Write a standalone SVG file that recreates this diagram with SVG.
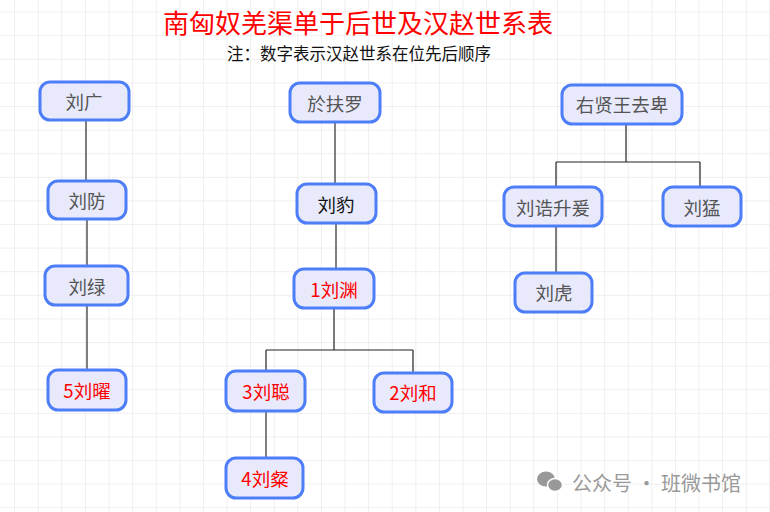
<svg xmlns="http://www.w3.org/2000/svg" width="770" height="512" viewBox="0 0 770 512">
<defs>
<pattern id="g" x="-8.5" y="-11" width="23.6" height="23.6" patternUnits="userSpaceOnUse">
<path d="M23.6 0V23.6M0 23.6H23.6" fill="none" stroke="#e0e0e0" stroke-width="1"/>
</pattern>
<style>
.n rect{fill:#e8eafc;stroke:#4d7ef7;stroke-width:3}
.n text{font-family:"Noto Sans CJK SC",sans-serif;font-size:18.5px;text-anchor:middle;dominant-baseline:central;fill:#555}
.n text.r{fill:#f00}
.n text.k{fill:#111}
#c path{fill:none;stroke:#555;stroke-width:1.5}
#c path.d{stroke:#222;stroke-width:1.2}
</style>
</defs>
<rect width="770" height="512" fill="#fff"/>
<rect width="770" height="512" fill="url(#g)"/>
<text x="358" y="21" font-family="Noto Sans CJK SC,sans-serif" font-size="26" fill="#f00" text-anchor="middle" dominant-baseline="central">南匈奴羌渠单于后世及汉赵世系表</text>
<text x="359" y="53" font-family="Noto Sans CJK SC,sans-serif" font-size="16.5" fill="#111" text-anchor="middle" dominant-baseline="central">注：数字表示汉赵世系在位先后顺序</text>
<g id="c">
<path d="M86 120V181M87 219V266M87 305V370"/>
<path d="M335 122V184M336 223V269"/>
<path class="d" d="M334 308V350M266 350H413M266 350V371M413 350V373"/>
<path d="M266 411V458"/>
<path class="d" d="M626 124V162M556 162H700M556 162V187M700 162V187"/>
<path d="M556 226V273"/>
</g>
<g id="liuguang" class="n"><rect x="40" y="82" width="89" height="38" rx="10"/><text x="84" y="101">刘广</text></g>
<g id="liufang" class="n"><rect x="48" y="181" width="78" height="38" rx="10"/><text x="87" y="200">刘防</text></g>
<g id="liulv" class="n"><rect x="45" y="266" width="83" height="39" rx="10"/><text x="87" y="286">刘绿</text></g>
<g id="liuyao" class="n"><rect x="48" y="370" width="78" height="40" rx="10"/><text class="r" x="87" y="390">5刘曜</text></g>
<g id="yufuluo" class="n"><rect x="290" y="83" width="90" height="39" rx="10"/><text x="335" y="103">於扶罗</text></g>
<g id="liubao" class="n"><rect x="297" y="184" width="79" height="39" rx="10"/><text class="k" x="336" y="204">刘豹</text></g>
<g id="liuyuan" class="n"><rect x="294" y="269" width="80" height="39" rx="10"/><text class="r" x="334" y="289">1刘渊</text></g>
<g id="liucong" class="n"><rect x="226" y="371" width="79" height="40" rx="10"/><text class="r" x="266" y="391">3刘聪</text></g>
<g id="liuhe" class="n"><rect x="374" y="373" width="78" height="39" rx="10"/><text class="r" x="413" y="392">2刘和</text></g>
<g id="liucan" class="n"><rect x="226" y="458" width="77" height="40" rx="10"/><text class="r" x="265" y="478">4刘粲</text></g>
<g id="youxian" class="n"><rect x="562" y="85" width="120" height="39" rx="10"/><text x="622" y="104">右贤王去卑</text></g>
<g id="liugao" class="n"><rect x="504" y="187" width="98" height="39" rx="10"/><text x="553" y="207">刘诰升爰</text></g>
<g id="liumeng" class="n"><rect x="663" y="187" width="78" height="39" rx="10"/><text x="702" y="207">刘猛</text></g>
<g id="liuhu" class="n"><rect x="515" y="273" width="77" height="39" rx="10"/><text x="554" y="292">刘虎</text></g>
<g id="wm" fill="#999">
<ellipse cx="546" cy="479" rx="9" ry="7.5"/><ellipse cx="555" cy="485" rx="7.5" ry="6.5" stroke="#fff" stroke-width="1.5"/>
<text x="572" y="482" font-family="Noto Sans CJK SC,sans-serif" font-size="20" dominant-baseline="central">公众号 · 班微书馆</text>
</g>
</svg>
